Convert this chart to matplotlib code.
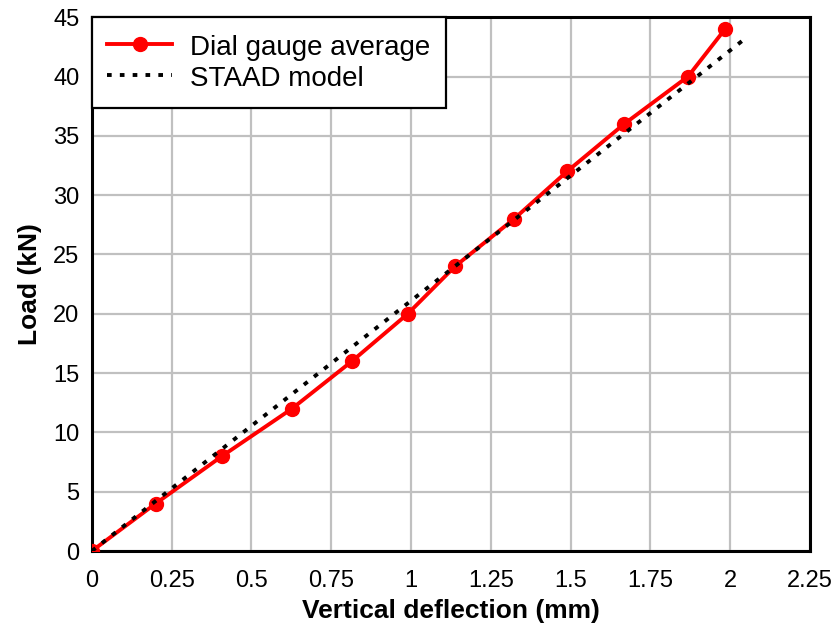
import matplotlib
matplotlib.use("Agg")
import matplotlib.pyplot as plt
from matplotlib import font_manager

# dial gauge readings
load_dial = [0, 4, 8, 12, 16, 20, 24, 28, 32, 36, 40, 44]
defl_dial = [0, 0.20, 0.408, 0.627, 0.815, 0.99, 1.138, 1.323, 1.489, 1.668, 1.868, 1.984]

# STAAD model (linear)
load_staad = [0, 10, 20, 30, 40, 43.2]
defl_staad = [0, 0.474, 0.948, 1.422, 1.896, 2.047]

names = {f.name for f in font_manager.fontManager.ttflist}
narrow = 'Liberation Sans Narrow' if 'Liberation Sans Narrow' in names else 'Liberation Sans'
plt.rcParams['font.family'] = ['Liberation Sans', 'DejaVu Sans']

fig = plt.figure(figsize=(8.35, 6.28), dpi=100)
ax = fig.add_axes([0.110, 0.1226, 0.860, 0.850])

ax.plot(defl_dial, load_dial, color='#ff0000', lw=2.8, marker='o', ms=10,
        label='Dial gauge average', zorder=3)
ax.plot(defl_staad, load_staad, color='black', lw=2.8, ls=(0, (1.2, 2.1)),
        label='STAAD model', zorder=4)

ax.set_xlim(0, 2.25)
ax.set_ylim(0, 45)
ax.set_xticks([0, 0.25, 0.5, 0.75, 1, 1.25, 1.5, 1.75, 2, 2.25])
ax.set_xticklabels(['0', '0.25', '0.5', '0.75', '1', '1.25', '1.5', '1.75', '2', '2.25'])
ax.set_yticks(range(0, 46, 5))
ax.grid(True, color='#c0c0c0', lw=1.6)
ax.set_axisbelow(True)
for s in ax.spines.values():
    s.set_linewidth(2.2)
ax.tick_params(axis='y', length=0, labelsize=17, pad=9)
ax.tick_params(axis='x', length=0, labelsize=17, pad=14)
for lab in ax.get_xticklabels() + ax.get_yticklabels():
    lab.set_family([narrow, 'DejaVu Sans'])

ax.set_xlabel('Vertical deflection (mm)', fontsize=19, fontweight='bold',
              labelpad=5, family=[narrow, 'DejaVu Sans'])
ax.set_ylabel('Load (kN)', fontsize=19, fontweight='bold',
              labelpad=8, family=[narrow, 'DejaVu Sans'])

leg = ax.legend(loc='upper left', fontsize=20, fancybox=False, framealpha=1,
                edgecolor='black', borderaxespad=0, handlelength=2.35,
                handleheight=1.1, borderpad=0.55, labelspacing=0.08,
                handletextpad=0.65)
leg.get_frame().set_linewidth(1.6)

fig.savefig('out.png', dpi=100)
